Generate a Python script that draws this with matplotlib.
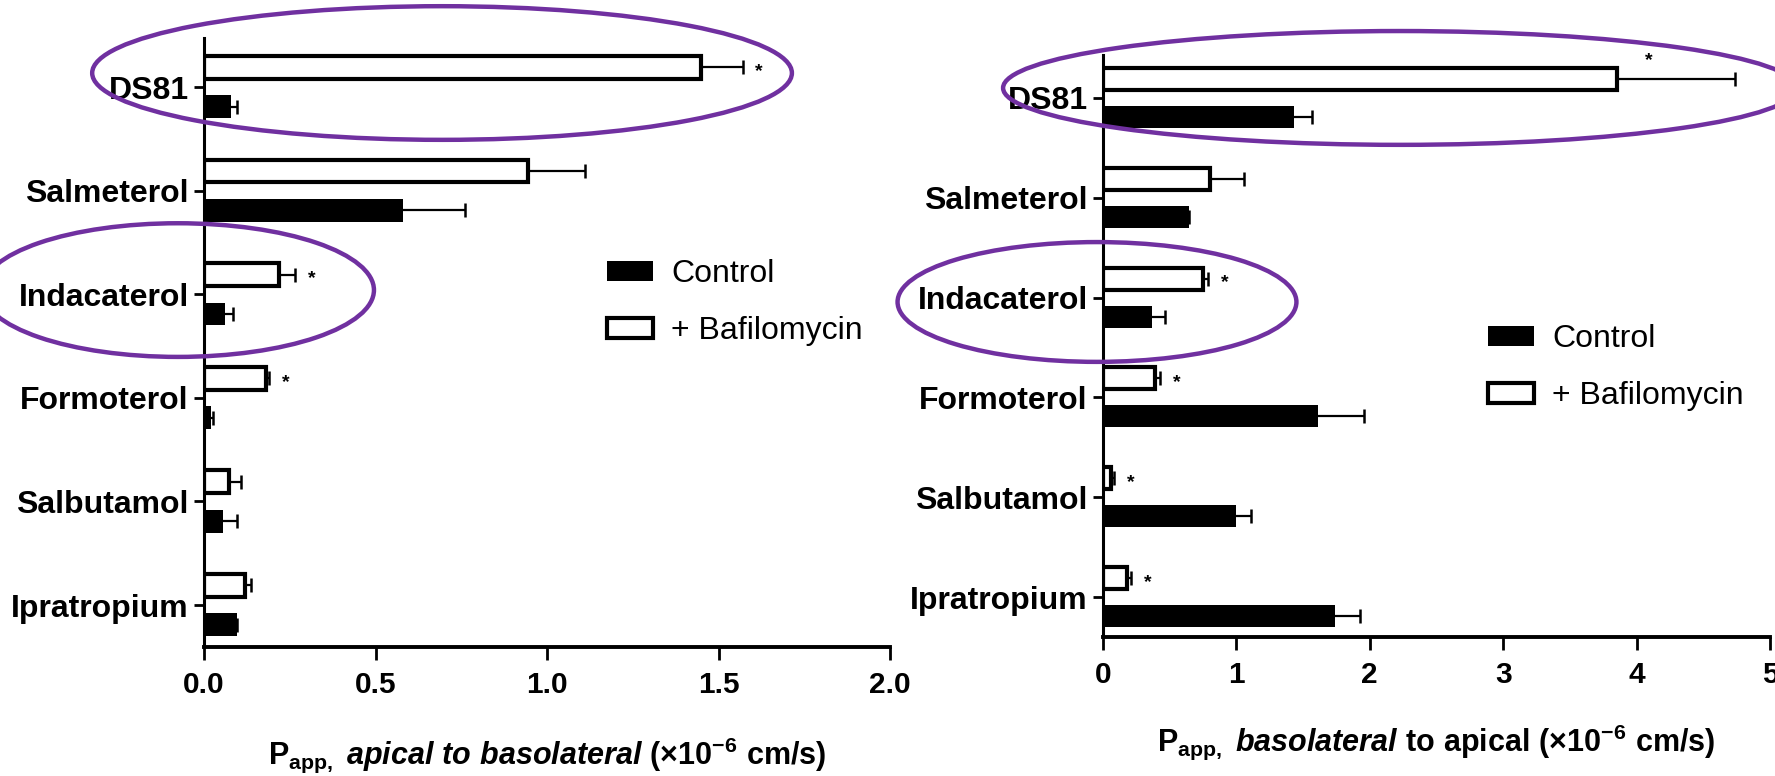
import matplotlib
matplotlib.use("Agg")
import matplotlib.pyplot as plt
from matplotlib.patches import Ellipse
import numpy as np

# ---------------- data ----------------
categories = ["DS81", "Salmeterol", "Indacaterol", "Formoterol", "Salbutamol", "Ipratropium"]

# apical -> basolateral (left panel)
ab_control = [0.08, 0.58, 0.062, 0.02, 0.055, 0.095]
ab_control_err = [0.015, 0.18, 0.022, 0.005, 0.04, 0.0]
ab_baf = [1.45, 0.945, 0.218, 0.18, 0.072, 0.12]
ab_baf_err = [0.12, 0.165, 0.047, 0.01, 0.037, 0.017]
ab_star = [True, False, True, True, False, False]

# basolateral -> apical (right panel)
ba_control = [1.43, 0.645, 0.367, 1.61, 1.0, 1.74]
ba_control_err = [0.14, 0.0, 0.10, 0.35, 0.11, 0.19]
ba_baf = [3.85, 0.80, 0.75, 0.39, 0.06, 0.18]
ba_baf_err = [0.89, 0.26, 0.04, 0.04, 0.02, 0.03]
ba_star = [True, False, True, True, True, True]

left_ticks = [0.0, 0.5, 1.0, 1.5, 2.0]
left_ticklabels = ["0.0", "0.5", "1.0", "1.5", "2.0"]
right_ticks = [0, 1, 2, 3, 4, 5]
right_ticklabels = ["0", "1", "2", "3", "4", "5"]

legend_labels = ["Control", "+ Bafilomycin"]

# ---------------- style ----------------
plt.rcParams['font.family'] = ['Liberation Sans', 'DejaVu Sans']
plt.rcParams['mathtext.fontset'] = 'custom'
plt.rcParams['mathtext.rm'] = 'Liberation Sans:bold'
plt.rcParams['mathtext.it'] = 'Liberation Sans:italic:bold'
plt.rcParams['mathtext.bf'] = 'Liberation Sans:bold'

W, H = 1775, 776
fig = plt.figure(figsize=(W / 100, H / 100), dpi=100)

PURPLE = "#7030A0"
OFF = 0.19
BH = 0.22


def px_axes(x0, x1, ytop, ybot):
    return fig.add_axes([x0 / W, 1 - ybot / H, (x1 - x0) / W, (ybot - ytop) / H])


def err(ax, vals, pos, e):
    n = len(vals)
    _, caps, _ = ax.errorbar(vals, pos, xerr=[np.zeros(n), e], fmt='none', ecolor='black',
                             elinewidth=1.6, capsize=5, capthick=1.8, zorder=1)
    if len(caps) == 2:
        caps[0].set_visible(False)


def draw_panel(ax, ctrl, ctrl_err, baf, baf_err, stars, xlim, ylim, ticks, ticklabels,
               xlabel, label_y):
    n = len(categories)
    pos = np.arange(n)[::-1].astype(float)
    err(ax, baf, pos + OFF, baf_err)
    err(ax, ctrl, pos - OFF, ctrl_err)
    ax.barh(pos - OFF, ctrl, height=BH, color='black', edgecolor='black', linewidth=0,
            zorder=2, label=legend_labels[0])
    ax.barh(pos + OFF, baf, height=BH, color='white', edgecolor='black', linewidth=3,
            zorder=2, label=legend_labels[1])
    for p, v, e, s in zip(pos, baf, baf_err, stars):
        if s:
            ax.annotate("*", xy=(v + e, p + OFF), xytext=(12, -3), textcoords='offset points',
                        ha='center', va='center', fontsize=14, fontweight='bold',
                        annotation_clip=False)
    ax.set_xlim(*xlim)
    ax.set_ylim(*ylim)
    ax.set_yticks(pos)
    ax.set_yticklabels(categories, fontsize=23, fontweight='bold')
    ax.set_xticks(ticks)
    ax.set_xticklabels(ticklabels, fontsize=21.5, fontweight='bold')
    ax.spines['top'].set_visible(False)
    ax.spines['right'].set_visible(False)
    ax.spines['left'].set_linewidth(2.2)
    ax.spines['bottom'].set_linewidth(2.8)
    ax.tick_params(axis='y', length=7, width=2, pad=4, direction='out')
    ax.tick_params(axis='x', length=9, width=2, pad=8, direction='out')
    ax.set_xlabel(xlabel, fontsize=22)
    ax.xaxis.set_label_coords(0.5, label_y)
    ax.xaxis.label.set_verticalalignment('center')
    return pos


# ---------------- left panel ----------------
axL = px_axes(204, 890, 38, 647)
draw_panel(axL, ab_control, ab_control_err, ab_baf, ab_baf_err, ab_star,
           (0, 2.0), (-0.405, 5.473), left_ticks, left_ticklabels,
           r'$\mathrm{P_{app,}}\ \mathit{apical\ to\ basolateral}\ \mathrm{(\times10^{-6}\ cm/s)}$',
           (647 - 755) / 609)

# ---------------- right panel ----------------
axR = px_axes(1103, 1770, 55, 637)
posR = draw_panel(axR, ba_control, ba_control_err, ba_baf, ba_baf_err, [False] + ba_star[1:],
                  (0, 5), (-0.40, 5.43), right_ticks, right_ticklabels,
                  r'$\mathrm{P_{app,}}\ \mathit{basolateral}\ \mathrm{to\ apical\ (\times10^{-6}\ cm/s)}$',
                  (637 - 742) / 582)
# DS81 star in the right panel sits above the bar
axR.annotate("*", xy=(ba_baf[0], posR[0] + OFF), xytext=(23, 13), textcoords='offset points',
             ha='center', va='center', fontsize=14, fontweight='bold', annotation_clip=False)

# ---------------- legends ----------------
for ax, (lx, ly) in ((axL, (607, 259)), (axR, (1488, 324))):
    ax.legend(loc='upper left', bbox_to_anchor=(lx / W, 1 - ly / H),
              bbox_transform=fig.transFigure, frameon=False, fontsize=23,
              handlelength=1.45, handleheight=0.6, handletextpad=0.55,
              labelspacing=0.85, borderpad=0, borderaxespad=0)

# ---------------- highlight ellipses ----------------
ell = [
    (axL, (0.694, 5.135), 2.04, 1.29),
    (axL, (-0.076, 3.04), 1.143, 1.29),
    (axR, (2.226, 5.10), 5.95, 1.14),
    (axR, (-0.045, 2.956), 2.99, 1.20),
]
for ax, c, w, h in ell:
    e = Ellipse(c, w, h, facecolor='none', edgecolor=PURPLE, linewidth=3.2, clip_on=False,
                zorder=5)
    ax.add_patch(e)

fig.savefig("out.png", dpi=100)
